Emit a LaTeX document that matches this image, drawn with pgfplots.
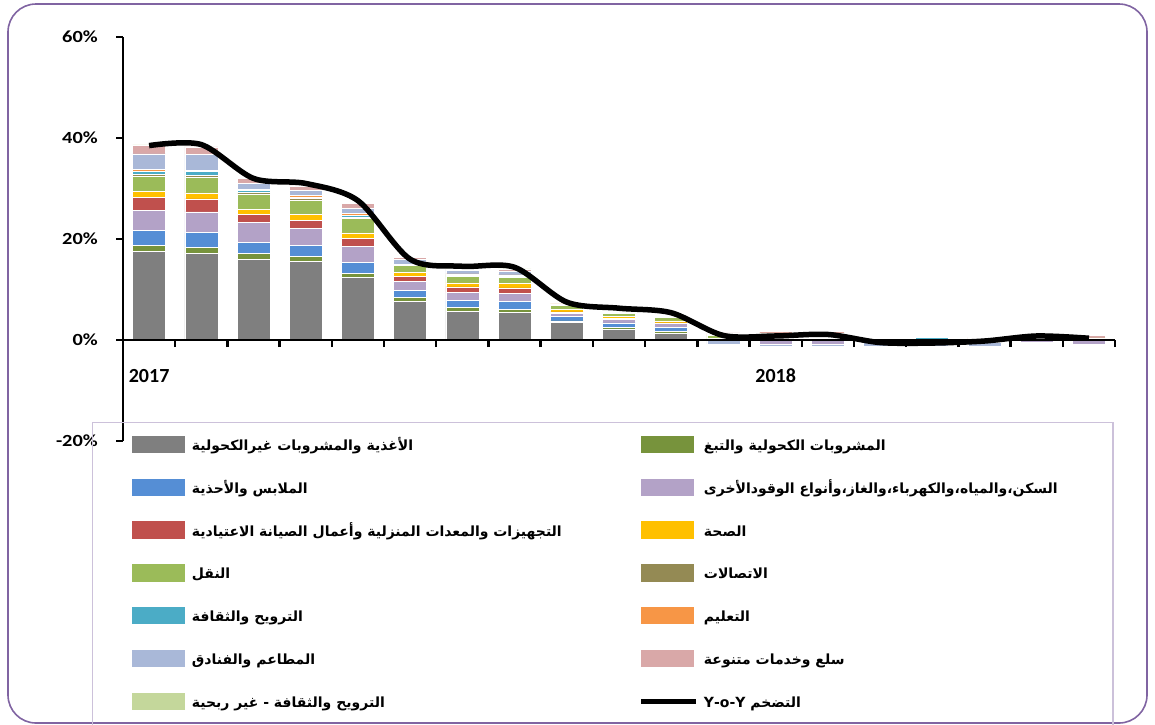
\documentclass[border=0pt]{standalone}
\usepackage{fontspec}
\usepackage{pgfplots}
\usepackage{pgfplotstable}
\pgfplotsset{compat=1.18}
\TeXXeTstate=1
\setmainfont{Carlito}
\newfontfamily\tickfont{Carlito}[FakeStretch=1.2]
\newfontfamily\ar[Script=Arabic]{DejaVu Sans}

\definecolor{foodc}{HTML}{7F7F7F}
\definecolor{alcc}{HTML}{77933C}
\definecolor{clothc}{HTML}{558ED5}
\definecolor{housec}{HTML}{B3A2C7}
\definecolor{furnc}{HTML}{C0504D}
\definecolor{healthc}{HTML}{FFC000}
\definecolor{transc}{HTML}{9BBB59}
\definecolor{commc}{HTML}{948A54}
\definecolor{recc}{HTML}{4BACC6}
\definecolor{educ}{HTML}{F79646}
\definecolor{restc}{HTML}{A9B8D8}
\definecolor{miscc}{HTML}{D9A8A8}
\definecolor{recnpc}{HTML}{C4D79B}
\definecolor{framec}{HTML}{8064A2}
\definecolor{legc}{HTML}{CCC1DA}

\pgfplotstableread{
x food alc cloth house furn health trans comm rec edu rest misc recnp
0 17.55 1.20 3.00 3.90 2.60 1.20 2.90 0.50 0.60 0.40 3.00 1.70 0.10
1 17.10 1.25 2.90 4.10 2.60 1.20 3.10 0.30 0.80 0.30 3.10 1.50 0.10
2 15.97 1.20 2.15 3.90 1.60 1.10 3.00 0.30 0.40 0.25 1.20 1.00 0.10
3 15.60 0.90 2.20 3.40 1.60 1.10 2.90 0.30 0.30 0.30 1.10 0.80 0.05
4 12.45 0.75 2.20 3.20 1.50 1.10 2.85 0.25 0.35 0.35 1.10 0.90 0.05
5 7.60 0.80 1.50 1.70 1.00 0.85 1.30 0.10 0.10 0.10 0.90 0.40 0.05
6 5.70 0.70 1.40 1.70 1.00 0.80 1.35 0.15 0.15 0.15 0.70 0.25 0.05
7 5.50 0.60 1.50 1.70 1.00 0.90 1.25 0.15 0.15 0.15 0.75 0.40 0.05
8 3.45 0.35 0.85 0.65 0.25 0.45 0.90 0.08 0.08 0.09 0.15 0.10 0.00
9 2.10 0.40 0.90 0.70 0.15 0.40 0.65 0.10 0.10 0.10 0.10 0.10 0.00
10 1.30 0.35 0.80 0.80 0.15 0.40 0.65 0.10 0.10 0.15 0.05 0.20 0.00
11 0.00 0.00 0.00 0.00 0.00 0.35 0.60 0.00 0.00 0.15 0.00 0.30 0.00
12 0.00 0.30 0.00 0.00 0.00 0.30 0.50 0.10 0.00 0.20 0.00 0.25 0.00
13 0.00 0.30 0.00 0.00 0.00 0.30 0.50 0.00 0.00 0.30 0.00 0.30 0.00
14 0.00 0.00 0.00 0.00 0.00 0.00 0.00 0.00 0.00 0.30 0.00 0.00 0.00
15 0.00 0.00 0.00 0.00 0.00 0.00 0.00 0.10 0.40 0.00 0.00 0.00 0.00
16 0.00 0.00 0.00 0.00 0.00 0.00 0.00 0.00 0.00 0.30 0.00 0.20 0.00
17 0.00 0.00 0.00 0.00 0.00 0.00 0.20 0.00 0.00 0.20 0.00 0.10 0.00
18 0.00 0.00 0.00 0.00 0.00 0.00 0.40 0.00 0.00 0.00 0.00 0.45 0.00
}\pos

\pgfplotstableread{
x house rest
11 0.0 -0.8
12 -0.8 -0.4
13 -0.8 -0.4
14 -0.3 -1.0
15 0.0 -1.3
16 -0.5 -0.7
17 -0.5 0.0
18 -0.8 0.0
}\negt

\pgfplotstableread{
x y
0 38.5
1 38.7
2 32.0
3 31.0
4 27.6
5 16.0
6 14.6
7 14.4
8 7.5
9 6.3
10 5.4
11 0.9
12 0.8
13 1.1
14 -0.5
15 -0.6
16 -0.2
17 0.8
18 0.35
}\yoy

\newcommand{\LegFont}{\ar\bfseries\fontsize{14}{16}\selectfont}
\newcommand{\LA}[1]{\makebox[454pt][l]{\rule[-3.5pt]{0pt}{16pt}\hspace{7pt}\smash{\raisebox{4pt}{\LegFont\beginR #1\endR}}}}
\newcommand{\LB}[1]{\makebox[375pt][l]{\rule[-3.5pt]{0pt}{16pt}\hspace{5pt}\smash{\raisebox{4pt}{\LegFont\beginR #1\endR}}}}

\pgfplotsset{
  common/.style={
    scale only axis, width=992pt, height=404pt,
    at={(123pt,-441pt)}, anchor=south west,
    xmin=-0.5, xmax=18.5, ymin=-20, ymax=60,
  },
  bars/.style={common, hide axis, ybar stacked, bar width=33pt,
    every axis plot/.append style={draw=white, line width=0.6pt}},
  barleg/.style={legend image code/.code={\fill[#1] (0pt,-3.5pt) rectangle (52pt,12.5pt);}},
}

\begin{document}
\begin{tikzpicture}
\useasboundingbox (0pt,0pt) rectangle (1155pt,-724pt);
\draw[framec, line width=1.6pt, rounded corners=28pt] (8pt,-4pt) rectangle (1147pt,-723pt);

\begin{axis}[bars]
\addplot[fill=housec] table[x=x,y=house]{\negt};
\addplot[fill=restc] table[x=x,y=rest]{\negt};
\end{axis}

\begin{axis}[bars]
\addplot[fill=foodc] table[x=x,y=food]{\pos};
\addplot[fill=alcc] table[x=x,y=alc]{\pos};
\addplot[fill=clothc] table[x=x,y=cloth]{\pos};
\addplot[fill=housec] table[x=x,y=house]{\pos};
\addplot[fill=furnc] table[x=x,y=furn]{\pos};
\addplot[fill=healthc] table[x=x,y=health]{\pos};
\addplot[fill=transc] table[x=x,y=trans]{\pos};
\addplot[fill=commc] table[x=x,y=comm]{\pos};
\addplot[fill=recc] table[x=x,y=rec]{\pos};
\addplot[fill=educ] table[x=x,y=edu]{\pos};
\addplot[fill=restc] table[x=x,y=rest]{\pos};
\addplot[fill=miscc] table[x=x,y=misc]{\pos};
\addplot[fill=recnpc] table[x=x,y=recnp]{\pos};
\end{axis}

\begin{axis}[common,
  axis x line=middle, axis y line=left,
  x axis line style={-, line width=2.6pt},
  y axis line style={-, line width=2.4pt},
  xtick={-0.5,0.5,...,18.5}, xticklabels={},
  extra x ticks={0,12}, extra x tick labels={2017,2018},
  extra x tick style={major tick length=0pt},
  xticklabel style={font=\bfseries\fontsize{20}{24}\selectfont, anchor=base, yshift=-42pt},
  ytick={-20,0,20,40,60}, yticklabels={-20\%,0\%,20\%,40\%,60\%},
  yticklabel style={font=\tickfont\bfseries\fontsize{17}{20}\selectfont, inner sep=0pt, xshift=-18pt},
  tick align=outside, major tick length=7pt,
  tick style={line width=2.4pt, black},
  legend columns=2,
  legend cell align=left,
  legend style={at={(-0.03125,0.04703)}, anchor=north west, draw=legc, line width=1.3pt,
    fill=none, inner xsep=39pt, inner ysep=13pt, row sep=22.7pt, nodes={inner sep=0pt}},
]
\addlegendimage{barleg=foodc}\addlegendentry{\LA{الأغذية والمشروبات غيرالكحولية}}
\addlegendimage{barleg=alcc}\addlegendentry{\LB{المشروبات الكحولية والتبغ}}
\addlegendimage{barleg=clothc}\addlegendentry{\LA{الملابس والأحذية}}
\addlegendimage{barleg=housec}\addlegendentry{\LB{السكن،والمياه،والكهرباء،والغاز،وأنواع الوقودالأخرى}}
\addlegendimage{barleg=furnc}\addlegendentry{\LA{التجهيزات والمعدات المنزلية وأعمال الصيانة الاعتيادية}}
\addlegendimage{barleg=healthc}\addlegendentry{\LB{الصحة}}
\addlegendimage{barleg=transc}\addlegendentry{\LA{النقل}}
\addlegendimage{barleg=commc}\addlegendentry{\LB{الاتصالات}}
\addlegendimage{barleg=recc}\addlegendentry{\LA{الترويح والثقافة}}
\addlegendimage{barleg=educ}\addlegendentry{\LB{التعليم}}
\addlegendimage{barleg=restc}\addlegendentry{\LA{المطاعم  والفنادق}}
\addlegendimage{barleg=miscc}\addlegendentry{\LB{سلع وخدمات متنوعة}}
\addlegendimage{barleg=recnpc}\addlegendentry{\LA{الترويح والثقافة - غير ربحية}}
\addplot[black, line width=5.5pt, smooth,
  legend image code/.code={\draw[black, line width=5pt] (0pt,4.5pt) -- (55pt,4.5pt);}]
  table[x=x,y=y]{\yoy};
\addlegendentry{\LB{التضخم \beginL Y-o-Y\endL}}
\end{axis}
\end{tikzpicture}
\end{document}
